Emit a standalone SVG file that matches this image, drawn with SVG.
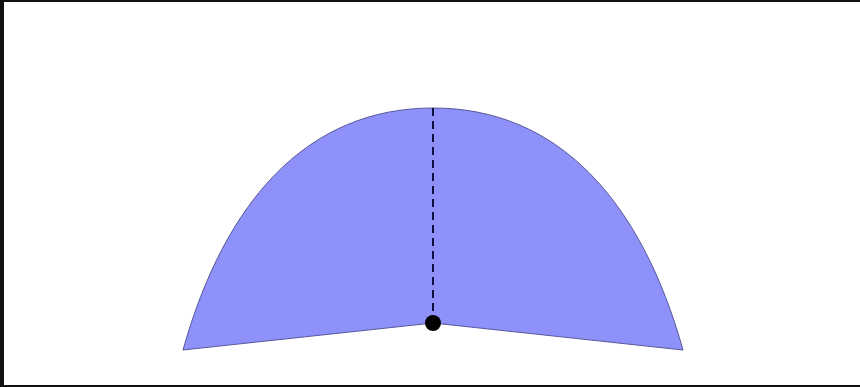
<svg xmlns="http://www.w3.org/2000/svg" width="860" height="387" viewBox="0 0 860 387">
  <style>
    .frame { fill: #111111; }
    .sector { fill: #8f91fa; stroke: #55579a; stroke-width: 1; }
    .axis { stroke: #101040; stroke-width: 2; stroke-dasharray: 8 5; fill: none; }
  </style>
  <rect width="860" height="387" fill="#ffffff"/>
  <rect class="frame" x="0" y="0" width="860" height="2"/>
  <rect class="frame" x="0" y="0" width="4" height="387"/>
  <rect class="frame" x="0" y="385" width="860" height="2"/>
  <g id="sector">
    <path class="sector" d="M183,350 C225,200 308,108 433,108 C558,108 641,200 683,350 L433,323 Z"/>
  </g>
  <g id="connectors">
    <line class="axis" x1="433" y1="108" x2="433" y2="323"/>
  </g>
  <g id="center">
    <circle cx="433" cy="323" r="8" fill="#000000"/>
  </g>
</svg>
